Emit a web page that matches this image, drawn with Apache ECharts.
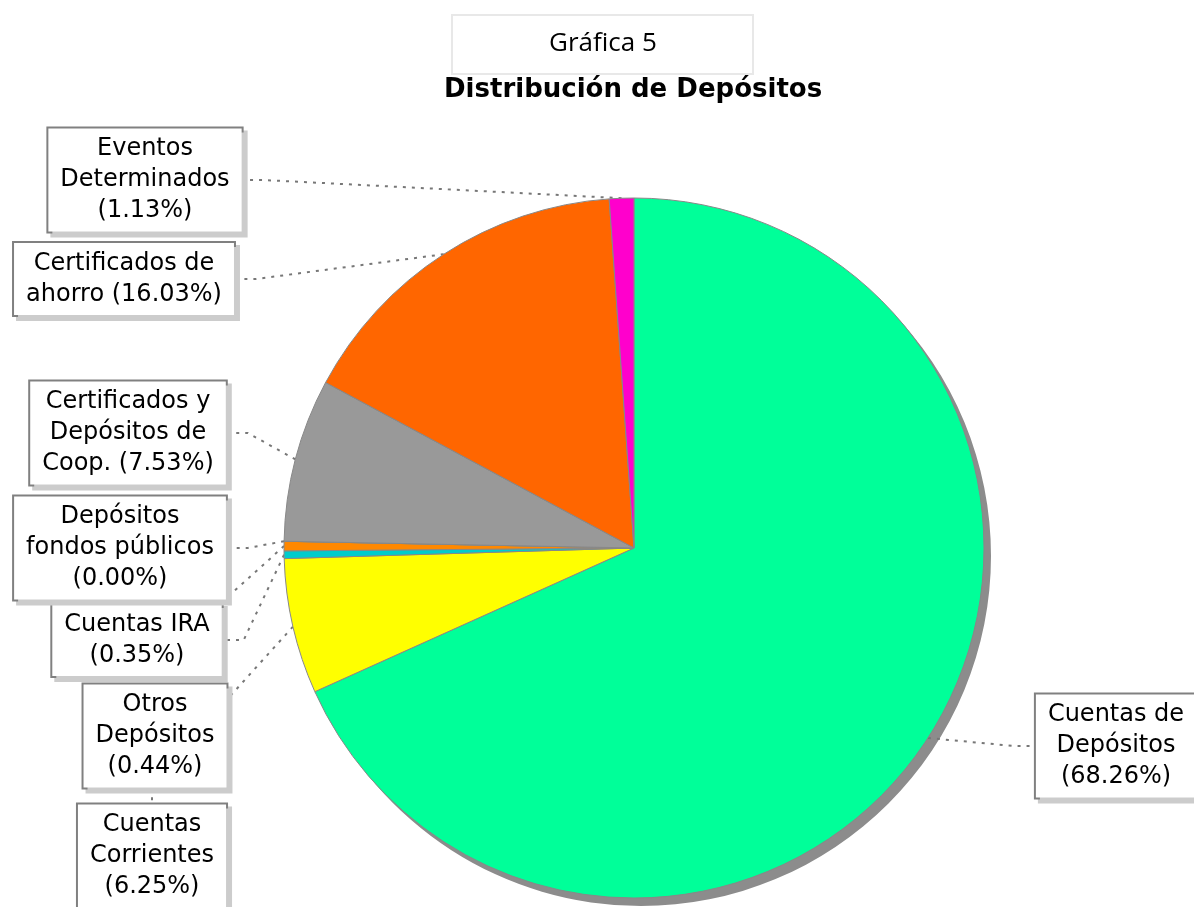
<!DOCTYPE html>
<html>
<head>
<meta charset="utf-8">
<title>Distribución de Depósitos</title>
<script src="https://cdn.jsdelivr.net/npm/echarts@6/dist/echarts.min.js"></script>
<style>
  html, body { margin: 0; padding: 0; background: #fff; }
  #chart { width: 1194px; height: 907px; }
</style>
</head>
<body>
<div id="chart"></div>
<script>
// categorías (con saltos de línea como en la gráfica original)
const names = [
  'Cuentas de\nDepósitos',
  'Cuentas\nCorrientes',
  'Cuentas IRA',
  'Otros\nDepósitos',
  'Depósitos\nfondos públicos',
  'Certificados y\nDepósitos de\nCoop.',
  'Certificados de\nahorro',
  'Eventos\nDeterminados'
]
// porcentajes
const values = [68.26, 6.25, 0.35, 0.44, 0.00, 7.53, 16.03, 1.13]
// separador entre nombre y porcentaje
const seps = ['\n', '\n', '\n', '\n', '\n', ' ', ' ', '\n']
const colors = ['#00ff99', '#ffff00', '#00cccc', '#ff8800', '#6666ff', '#999999', '#ff6600', '#ff00cc']

// posiciones de las etiquetas (centro de cada caja)
const labelPos = [
  [1116, 746],
  [152, 856],
  [137, 640],
  [155, 736],
  [120, 548],
  [128, 433],
  [124, 279],
  [145, 180]
]

const chart = echarts.init(document.getElementById('chart'))

const data = names.map((n, i) => ({
  name: n,
  value: values[i],
  itemStyle: { color: colors[i] }
}))

const option = {
  animation: false,
  title: [
    {
      text: 'Gráfica 5',
      left: 452,
      top: 15,
      padding: [16, 96, 17, 97],
      borderColor: '#e8e8e8',
      borderWidth: 2,
      textStyle: {
        fontFamily: 'Open Sans',
        fontSize: 26,
        fontWeight: 'normal',
        color: '#000'
      }
    },
    {
      text: 'Distribución de Depósitos',
      left: 444,
      top: 77,
      padding: 0,
      textStyle: {
        fontFamily: 'DejaVu Sans',
        fontSize: 26,
        fontWeight: 'bold',
        color: '#000'
      }
    }
  ],
  series: [
    {
      // sombra del pastel
      type: 'pie',
      silent: true,
      z: 1,
      center: [641, 556],
      radius: 350,
      startAngle: 90,
      clockwise: true,
      label: { show: false },
      labelLine: { show: false },
      itemStyle: { color: '#8c8c8c' },
      data: values.map(v => ({ value: v }))
    },
    {
      type: 'pie',
      z: 2,
      center: [634, 548],
      radius: 350,
      startAngle: 90,
      clockwise: true,
      avoidLabelOverlap: false,
      itemStyle: {
        borderColor: '#888',
        borderWidth: 1
      },
      label: {
        show: true,
        position: 'outside',
        formatter: p => p.name + seps[p.dataIndex] + '(' + p.value.toFixed(2) + '%)',
        fontFamily: 'DejaVu Sans',
        fontSize: 24,
        lineHeight: 31,
        color: '#000',
        align: 'center',
        backgroundColor: '#fff',
        borderColor: '#808080',
        borderWidth: 2,
        padding: [5, 12],
        shadowColor: '#cccccc',
        shadowOffsetX: 4,
        shadowOffsetY: 4
      },
      labelLine: {
        show: true,
        length: 20,
        length2: 20,
        lineStyle: {
          color: '#777',
          width: 2,
          type: [3, 6]
        }
      },
      labelLayout: p => ({
        x: labelPos[p.dataIndex][0],
        y: labelPos[p.dataIndex][1],
        align: 'center',
        verticalAlign: 'middle'
      }),
      data: data
    }
  ]
}

chart.setOption(option)
</script>
</body>
</html>
